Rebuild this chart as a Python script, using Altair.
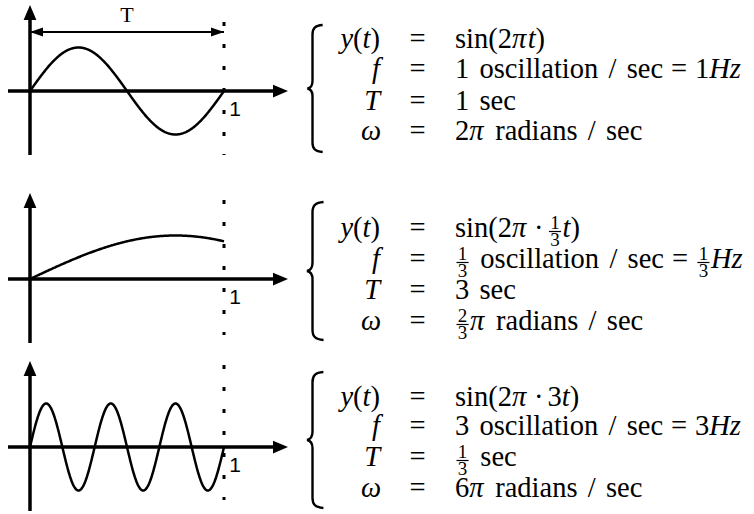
import altair as alt
import numpy as np
import pandas as pd

# ---------------------------------------------------------------- content
FREQS = [1.0, 1.0 / 3.0, 3.0]          # oscillations per second, one per panel
PERIOD_LABEL = "T"
TICK_LABEL = "1"

# equation tokens: ("rm", text) upright, ("it", text) italic,
# ("rel", "=") relation, ("bin", "·") binary operator, ("frac", num, den)
LHS = [
    [("it", "y"), ("rm", "("), ("it", "t"), ("rm", ")")],
    [("it", "f")],
    [("it", "T")],
    [("it", "ω")],
]
RHS_1 = [
    [("rm", "sin(2"), ("it", "π"), ("it", "t"), ("rm", ")")],
    [("rm", "1 oscillation / sec"), ("rel", "="), ("rm", "1"), ("it", "Hz")],
    [("rm", "1 sec")],
    [("rm", "2"), ("it", "π"), ("rm", " radians / sec")],
]
RHS_2 = [
    [("rm", "sin(2"), ("it", "π"), ("bin", "·"), ("frac", "1", "3"), ("it", "t"), ("rm", ")")],
    [("frac", "1", "3"), ("rm", " oscillation / sec"), ("rel", "="), ("frac", "1", "3"), ("it", "Hz")],
    [("rm", "3 sec")],
    [("frac", "2", "3"), ("it", "π"), ("rm", " radians / sec")],
]
RHS_3 = [
    [("rm", "sin(2"), ("it", "π"), ("bin", "·"), ("rm", "3"), ("it", "t"), ("rm", ")")],
    [("rm", "3 oscillation / sec"), ("rel", "="), ("rm", "3"), ("it", "Hz")],
    [("frac", "1", "3"), ("rm", " sec")],
    [("rm", "6"), ("it", "π"), ("rm", " radians / sec")],
]
RHS = [RHS_1, RHS_2, RHS_3]

# ---------------------------------------------------------------- layout
LEFT_W, RIGHT_W = 300, 454
ROW_TOP = [0, 170, 345]
ROW_H = [170, 175, 169]
AXIS_Y = [91, 279, 447]                # x-axis line of each plot
T0_PX, UNIT_PX = 30, 194               # t = 0 and one second, in pixels
AMP_PX = 43.5                          # pixels per unit amplitude
DOT_SPAN = [(-69, 64), (-79, 56), (-82, 53)]
BASELINES = [[48, 78, 110, 140], [237, 268, 299, 330], [406, 435, 466, 497]]
BRACES = [(25, 152), (202, 340), (372, 508)]
LHS_RIGHT, EQ_X, RHS_LEFT = 380, 417.5, 455

SERIF = "Liberation Serif"
SANS = "Liberation Sans"
FS, FRAC_FS = 28.5, 19
WORD_SP, REL_SP, BIN_SP = 0.36, 0.278, 0.222
FRAC_PAD, FRAC_GAP = 1.3, 1.5

RM_W = {" ": 0.25, "(": 0.333, ")": 0.333, "/": 0.278, "·": 0.25, "=": 0.564,
        "a": 0.444, "c": 0.444, "d": 0.5, "e": 0.444, "i": 0.278, "l": 0.278,
        "n": 0.5, "o": 0.5, "r": 0.333, "s": 0.389, "t": 0.278}
IT_W = {"y": 0.444, "t": 0.278, "f": 0.278, "T": 0.556, "H": 0.722, "z": 0.389,
        "π": 0.55, "ω": 0.67}


def text_width(s, style, size):
    table = IT_W if style == "it" else RM_W
    return sum(table.get(ch, 0.5) for ch in s) * size


def lay_out(tokens, x, y, pieces, bars):
    """Place tokens left to right from x on baseline y; return the end x."""
    for tok in tokens:
        kind = tok[0]
        if kind in ("rm", "it"):
            for j, w in enumerate(tok[1].split(" ")):
                if j:
                    x += WORD_SP * FS
                if w:
                    pieces.append(dict(x=x, y=y, text=w, style=kind))
                    x += text_width(w, kind, FS)
        elif kind in ("rel", "bin"):
            gap = (REL_SP if kind == "rel" else BIN_SP) * FS
            x += gap
            pieces.append(dict(x=x, y=y, text=tok[1], style="rm"))
            x += text_width(tok[1], "rm", FS) + gap
        elif kind == "frac":
            wn = text_width(tok[1], "rm", FRAC_FS)
            wd = text_width(tok[2], "rm", FRAC_FS)
            w = max(wn, wd) + 2 * FRAC_PAD
            x += FRAC_GAP
            pieces.append(dict(x=x + (w - wn) / 2, y=y - 8, text=tok[1], style="sm"))
            pieces.append(dict(x=x + (w - wd) / 2, y=y + 8.5, text=tok[2], style="sm"))
            bars.append(dict(x=x, x2=x + w, y=y - 5.5))
            x += w + FRAC_GAP
    return x


RIGHT_HEAD = "M 0 0 L -2 -0.85 L -2 0.85 Z"
UP_HEAD = "M 0 0 L -0.85 2 L 0.85 2 Z"
SMALL_LEFT = "M 0 0 L 2 -0.7 L 2 0.7 Z"
SMALL_RIGHT = "M 0 0 L -2 -0.7 L -2 0.7 Z"
BRACE = ("M 0.16 -1 C 0.04 -0.99 0 -0.95 0 -0.85 L 0 -0.12 C 0 -0.05 -0.03 -0.01 -0.08 0 "
         "C -0.03 0.01 0 0.05 0 0.12 L 0 0.85 C 0 0.95 0.04 0.99 0.16 1")

T_SAMPLES = np.linspace(0, 1, 301)


def left_panel(i):
    a = AXIS_Y[i] - ROW_TOP[i]
    h = ROW_H[i]
    xs = alt.Scale(domain=[-T0_PX / UNIT_PX, (LEFT_W - T0_PX) / UNIT_PX], nice=False, zero=False)
    ys = alt.Scale(domain=[-(h - a) / AMP_PX, a / AMP_PX], nice=False, zero=False)
    one = alt.Data(values=[{"k": 0}])

    def xd(v):
        return alt.X(datum=v, scale=xs, axis=None)

    def yd(v):
        return alt.Y(datum=v, scale=ys, axis=None)

    curve = (
        alt.Chart(pd.DataFrame({"t": T_SAMPLES}))
        .transform_calculate(y=f"sin(2 * PI * {FREQS[i]} * datum.t)")
        .mark_line(color="black", strokeWidth=2.5)
        .encode(x=alt.X("t:Q", scale=xs, axis=None),
                y=alt.Y("y:Q", scale=ys, axis=None),
                order="t:Q")
    )
    h_axis = alt.Chart(one).mark_rule(color="black", strokeWidth=3.5).encode(
        x=alt.value(8), x2=alt.value(280), y=yd(0))
    h_head = alt.Chart(one).mark_point(
        shape=RIGHT_HEAD, size=225, filled=True, color="black", opacity=1
    ).encode(x=alt.value(288), y=yd(0))
    v_axis = alt.Chart(one).mark_rule(color="black", strokeWidth=3.5).encode(
        x=xd(0), y=alt.value(a - 74), y2=alt.value(a + 64))
    v_head = alt.Chart(one).mark_point(
        shape=UP_HEAD, size=225, filled=True, color="black", opacity=1
    ).encode(x=xd(0), y=alt.value(a - 86))
    dots = alt.Chart(one).mark_rule(color="black", strokeWidth=3, strokeDash=[4, 18]).encode(
        x=xd(1), y=alt.value(a + DOT_SPAN[i][0]), y2=alt.value(a + DOT_SPAN[i][1]))
    tick = alt.Chart(one).mark_text(
        text=TICK_LABEL, font=SANS, fontSize=21, dx=11, baseline="middle", color="black"
    ).encode(x=xd(1), y=alt.value(a + 18.5))

    layers = [h_axis, h_head, v_axis, v_head, dots, curve, tick]

    if i == 0:
        per_rule = alt.Chart(one).mark_rule(color="black", strokeWidth=2).encode(
            x=xd(0), x2=alt.X2(datum=1), y=alt.value(32))
        per_l = alt.Chart(one).mark_point(
            shape=SMALL_LEFT, size=169, filled=True, color="black", opacity=1
        ).encode(x=xd(0), y=alt.value(32))
        per_r = alt.Chart(one).mark_point(
            shape=SMALL_RIGHT, size=169, filled=True, color="black", opacity=1
        ).encode(x=xd(1), y=alt.value(32))
        per_t = alt.Chart(one).mark_text(
            text=PERIOD_LABEL, font=SERIF, fontSize=22, baseline="middle", color="black"
        ).encode(x=xd(0.5), y=alt.value(15))
        layers += [per_rule, per_l, per_r, per_t]

    return alt.layer(*layers).properties(width=LEFT_W, height=h)


def right_panel(i):
    top = ROW_TOP[i]
    pieces, bars = [], []
    for r in range(4):
        base = BASELINES[i][r]
        # left-hand side, right aligned
        end = lay_out(LHS[r], 0, base, [], [])
        lay_out(LHS[r], LHS_RIGHT - end, base, pieces, bars)
        # relation column
        w_eq = text_width("=", "rm", FS)
        pieces.append(dict(x=EQ_X - w_eq / 2, y=base, text="=", style="rm"))
        # right-hand side
        lay_out(RHS[i][r], RHS_LEFT, base, pieces, bars)

    df = pd.DataFrame(pieces)
    df["x"] -= LEFT_W
    df["y"] -= top
    enc = dict(
        x=alt.X("x:Q", scale=None, axis=None),
        y=alt.Y("y:Q", scale=None, axis=None),
        text="text:N",
    )

    def text_layer(kind, size, italic=False):
        opts = dict(font=SERIF, fontSize=size, align="left", baseline="alphabetic", color="black")
        if italic:
            opts["fontStyle"] = "italic"
        return (alt.Chart(df).transform_filter(f"datum.style == '{kind}'")
                .mark_text(**opts).encode(**enc))

    b0, b1 = BRACES[i]
    brace_df = pd.DataFrame([{"x": 12.5, "y": (b0 + b1) / 2 - top, "size": (b1 - b0) ** 2}])
    brace = alt.Chart(brace_df).mark_point(
        shape=BRACE, filled=False, color="black", strokeWidth=2.4, opacity=1
    ).encode(x=alt.X("x:Q", scale=None, axis=None),
             y=alt.Y("y:Q", scale=None, axis=None),
             size=alt.Size("size:Q", scale=None, legend=None))
    layers = [brace, text_layer("rm", FS), text_layer("it", FS, italic=True)]
    if bars:
        layers.append(text_layer("sm", FRAC_FS))
        bdf = pd.DataFrame(bars)
        bdf["x"] -= LEFT_W
        bdf["x2"] -= LEFT_W
        bdf["y"] -= top
        layers.append(
            alt.Chart(bdf).mark_rule(color="black", strokeWidth=1.2).encode(
                x=alt.X("x:Q", scale=None, axis=None), x2="x2:Q",
                y=alt.Y("y:Q", scale=None, axis=None))
        )
    return alt.layer(*layers).properties(width=RIGHT_W, height=ROW_H[i])


panels = []
for i in range(3):
    panels += [left_panel(i), right_panel(i)]

chart = (
    alt.concat(*panels, columns=2, spacing=0, bounds="flush")
    .properties(padding=0, background="white")
    .configure_view(strokeWidth=0)
)

chart.save("out.html", embed_options={"renderer": "svg", "actions": False})
